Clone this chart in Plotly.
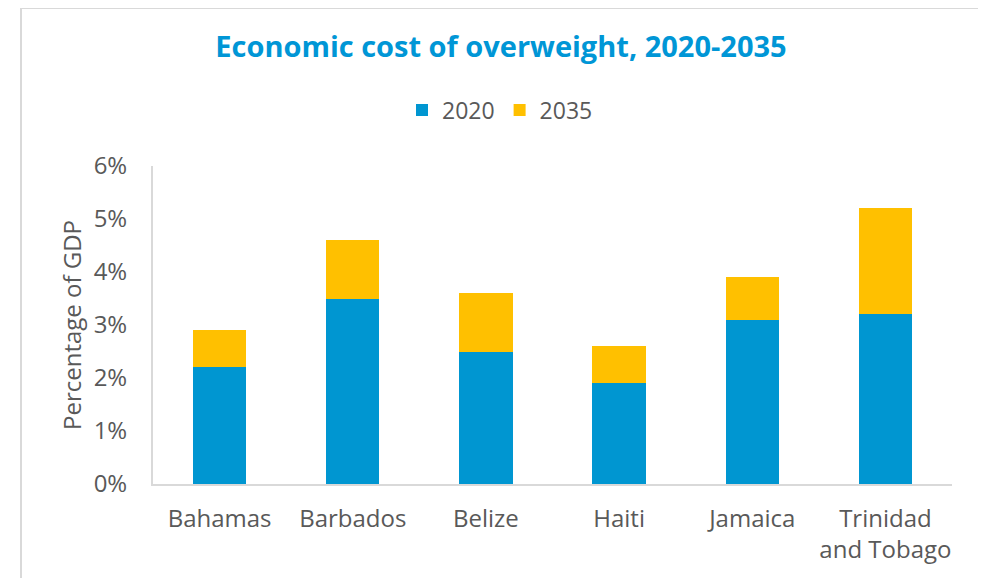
import plotly.graph_objects as go

countries = ["Bahamas", "Barbados", "Belize", "Haiti", "Jamaica", "Trinidad<br>and Tobago"]
cost_2020 = [0.022, 0.035, 0.025, 0.019, 0.031, 0.032]
cost_2035_extra = [0.007, 0.011, 0.011, 0.007, 0.008, 0.020]
y_ticks = [0, 0.01, 0.02, 0.03, 0.04, 0.05, 0.06]

# page body has an 8px margin; figure coordinates = window coordinates - 8
OFF = 8
W, H = 978, 570
L, R, T, B = 153 - OFF, 978 - (952 - OFF), 166 - OFF, 570 - (484 - OFF)
pw, ph = W - L - R, H - T - B

fig = go.Figure()
fig.add_trace(go.Bar(x=countries, y=cost_2020, name="2020", marker_color="#0096D1",
                     marker_line_width=0))
fig.add_trace(go.Bar(x=countries, y=cost_2035_extra, name="2035", marker_color="#FFC000",
                     marker_line_width=0))

def px_x(p):
    return (p - OFF - L) / pw

def px_y(p):
    return (H - B - (p - OFF)) / ph

fig.update_layout(
    width=W, height=H,
    barmode="stack", bargap=0.6,
    margin=dict(l=L, r=R, t=T, b=B),
    paper_bgcolor="white", plot_bgcolor="white",
    font=dict(family="Open Sans", color="#595959", size=24),
    title=dict(text="<b>Economic cost of overweight, 2020-2035</b>",
               font=dict(family="Open Sans", size=29, color="#0096D6"),
               x=(501 - OFF) / W, xanchor="center", y=1 - (47 - OFF) / H, yanchor="middle"),
    legend=dict(orientation="h", x=(500 - OFF) / W, xanchor="center", xref="container",
                y=1 - (110 - OFF) / H, yanchor="middle", yref="container",
                font=dict(size=23, color="#595959"), traceorder="normal",
                itemwidth=30),
    xaxis=dict(showline=True, linecolor="#D9D9D9", linewidth=2, ticks="",
               tickfont=dict(size=24, color="#595959"), showgrid=False,
               ticklabelstandoff=12),
    yaxis=dict(range=[0, 0.06], tickvals=y_ticks, tickformat=".0%",
               showline=True, linecolor="#D9D9D9", linewidth=2, showgrid=False,
               ticks="", ticklabelstandoff=19, zeroline=False,
               tickfont=dict(size=24, color="#595959"),
               title=dict(text="Percentage of GDP", font=dict(size=24, color="#595959"),
                          standoff=5)),
    shapes=[dict(type="rect", xref="paper", yref="paper",
                 x0=px_x(21), x1=px_x(980), y0=px_y(600), y1=px_y(8),
                 line=dict(color="#D9D9D9", width=2), fillcolor="rgba(0,0,0,0)",
                 layer="below")],
)

fig.write_html("out.html")
